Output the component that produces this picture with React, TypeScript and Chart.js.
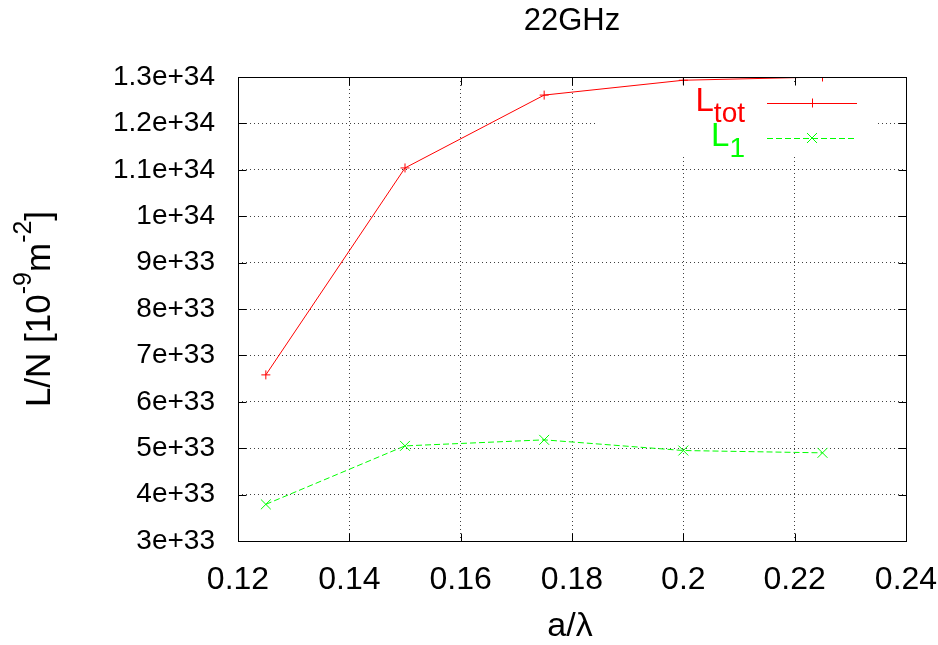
import { useEffect, useRef } from 'react';
import { Chart, registerables } from 'chart.js';

Chart.register(...registerables);

// a/λ sample positions and the two luminosity curves (per bunch charge)
const ratio = [0.125, 0.15, 0.175, 0.2, 0.225];
const lTot = [6.58e33, 1.104e34, 1.261e34, 1.293e34, 1.3e34];
const l1 = [3.79e33, 5.05e33, 5.18e33, 4.95e33, 4.9e33];

const chartTitle = '22GHz';
const xLabel = 'a/λ';
const xMin = 0.12;
const xMax = 0.24;
const xStep = 0.02;
const yMin = 3e33;
const yMax = 1.3e34;
const yStep = 1e33;

const FONT = "'Liberation Sans', Arial, Helvetica, sans-serif";
const RED = '#ff0000';
const GREEN = '#00ff00';

function sci(v: number): string {
  if (v === 0) return '0';
  const e = Math.floor(Math.log10(Math.abs(v)) + 1e-9);
  const m = Math.round((v / Math.pow(10, e)) * 10) / 10;
  return `${m}e+${e}`;
}

type Seg = { text: string; size: number; shift: number; color?: string };

function drawSegs(ctx: CanvasRenderingContext2D, segs: Seg[], x: number, y: number, align: 'left' | 'center' | 'right') {
  let total = 0;
  for (const s of segs) {
    ctx.font = `${s.size}px ${FONT}`;
    total += ctx.measureText(s.text).width;
  }
  let cx = align === 'left' ? x : align === 'center' ? x - total / 2 : x - total;
  ctx.textAlign = 'left';
  ctx.textBaseline = 'alphabetic';
  for (const s of segs) {
    ctx.font = `${s.size}px ${FONT}`;
    if (s.color) ctx.fillStyle = s.color;
    ctx.fillText(s.text, cx, y + s.shift);
    cx += ctx.measureText(s.text).width;
  }
}

const framePlugin = {
  id: 'gnuplotFrame',
  beforeDatasetsDraw(chart: any) {
    const { ctx, chartArea: a } = chart;
    // key box clears the grid behind it
    ctx.save();
    ctx.fillStyle = '#ffffff';
    ctx.fillRect(a.right - 308, a.top + 6, 280, 72);
    ctx.restore();
  },
  afterDatasetsDraw(chart: any) {
    const { ctx, chartArea: a } = chart;
    const xs = chart.scales.x;
    const ys = chart.scales.y;
    ctx.save();
    ctx.strokeStyle = '#000';
    ctx.lineWidth = 1;
    ctx.setLineDash([]);
    const L = Math.round(a.left) + 0.5;
    const R = Math.round(a.right) + 0.5;
    const T = Math.round(a.top) + 0.5;
    const B = Math.round(a.bottom) + 0.5;
    ctx.strokeRect(L, T, R - L, B - T);
    const tick = 8;
    ctx.beginPath();
    for (const t of xs.ticks) {
      const px = Math.round(xs.getPixelForValue(t.value)) + 0.5;
      ctx.moveTo(px, B);
      ctx.lineTo(px, B - tick);
      ctx.moveTo(px, T);
      ctx.lineTo(px, T + tick);
    }
    for (const t of ys.ticks) {
      const py = Math.round(ys.getPixelForValue(t.value)) + 0.5;
      ctx.moveTo(L, py);
      ctx.lineTo(L + tick, py);
      ctx.moveTo(R, py);
      ctx.lineTo(R - tick, py);
    }
    ctx.stroke();

    // key
    const textRight = a.right - 161;
    const lineStart = a.right - 139;
    const lineEnd = a.right - 49;
    const mid = (lineStart + lineEnd) / 2;
    const rows = [
      { main: 'L', sub: 'tot', color: RED, dash: [] as number[], y: a.top + 26, style: 'cross' },
      { main: 'L', sub: '1', color: GREEN, dash: [6, 3], y: a.top + 61, style: 'crossRot' },
    ];
    for (const r of rows) {
      drawSegs(
        ctx,
        [
          { text: r.main, size: 33, shift: 0, color: r.color },
          { text: r.sub, size: 28, shift: 11, color: r.color },
        ],
        textRight,
        r.y + 8,
        'right'
      );
      ctx.strokeStyle = r.color;
      ctx.lineWidth = 1;
      ctx.setLineDash(r.dash);
      ctx.beginPath();
      ctx.moveTo(lineStart, r.y + 0.5);
      ctx.lineTo(lineEnd, r.y + 0.5);
      ctx.stroke();
      ctx.setLineDash([]);
      ctx.beginPath();
      if (r.style === 'cross') {
        ctx.moveTo(mid - 4.5, r.y + 0.5);
        ctx.lineTo(mid + 4.5, r.y + 0.5);
        ctx.moveTo(mid + 0.5, r.y - 4.5);
        ctx.lineTo(mid + 0.5, r.y + 4.5);
      } else {
        ctx.moveTo(mid - 5, r.y - 5);
        ctx.lineTo(mid + 5, r.y + 5);
        ctx.moveTo(mid - 5, r.y + 5);
        ctx.lineTo(mid + 5, r.y - 5);
      }
      ctx.stroke();
    }

    // titles
    ctx.fillStyle = '#000';
    drawSegs(ctx, [{ text: chartTitle, size: 31, shift: 0 }], (a.left + a.right) / 2, 30, 'center');
    drawSegs(ctx, [{ text: xLabel, size: 34, shift: 0 }], (a.left + a.right) / 2 - 2, 636, 'center');

    ctx.save();
    ctx.translate(50, (a.top + a.bottom) / 2);
    ctx.rotate(-Math.PI / 2);
    ctx.fillStyle = '#000';
    drawSegs(
      ctx,
      [
        { text: 'L/N [10', size: 35, shift: 0 },
        { text: '-9', size: 25, shift: -19 },
        { text: 'm', size: 35, shift: 0 },
        { text: '-2', size: 25, shift: -19 },
        { text: ']', size: 35, shift: 0 },
      ],
      0,
      0,
      'center'
    );
    ctx.restore();
    ctx.restore();
  },
};

export default function App() {
  const ref = useRef<HTMLCanvasElement | null>(null);

  useEffect(() => {
    if (!ref.current) return;
    const gridCommon = {
      color: 'rgba(0,0,0,0.75)',
      lineWidth: 1,
      drawTicks: false,
    };
    const chart = new Chart(ref.current, {
      type: 'scatter',
      data: {
        datasets: [
          {
            label: 'L_tot',
            data: ratio.map((x, i) => ({ x, y: lTot[i] })),
            showLine: true,
            borderColor: RED,
            backgroundColor: RED,
            borderWidth: 1,
            pointStyle: 'cross',
            pointRadius: 4.5,
            pointBorderWidth: 1,
            pointBorderColor: RED,
          },
          {
            label: 'L_1',
            data: ratio.map((x, i) => ({ x, y: l1[i] })),
            showLine: true,
            borderColor: GREEN,
            backgroundColor: GREEN,
            borderWidth: 1,
            borderDash: [6, 3],
            pointStyle: 'crossRot',
            pointRadius: 7,
            pointBorderWidth: 1,
            pointBorderColor: GREEN,
          },
        ],
      },
      options: {
        responsive: false,
        animation: false,
        layout: { padding: { top: 77, right: 32, left: 0, bottom: 0 } },
        plugins: {
          legend: { display: false },
          title: { display: false },
          tooltip: { enabled: false },
        },
        scales: {
          x: {
            type: 'linear',
            min: xMin,
            max: xMax,
            afterFit: (s: any) => {
              s.height = 104;
              s.paddingLeft = 0;
              s.paddingRight = 0;
            },
            ticks: {
              stepSize: xStep,
              autoSkip: false,
              maxRotation: 0,
              padding: 20,
              color: '#000',
              font: { family: FONT, size: 32 },
              callback: (v: any) => String(Number(Number(v).toFixed(2))),
            },
            grid: gridCommon,
            border: { display: false, dash: [1, 3] },
          },
          y: {
            type: 'linear',
            min: yMin,
            max: yMax,
            afterFit: (s: any) => {
              s.width = 238;
              s.paddingTop = 0;
              s.paddingBottom = 0;
            },
            ticks: {
              stepSize: yStep,
              autoSkip: false,
              padding: 23,
              color: '#000',
              font: { family: FONT, size: 28 },
              callback: (v: any) => sci(Number(v)),
            },
            grid: gridCommon,
            border: { display: false, dash: [1, 3] },
          },
        },
      },
      plugins: [framePlugin],
    } as any);
    return () => chart.destroy();
  }, []);

  return (
    <div style={{ position: 'fixed', left: 0, top: 0, width: 938, height: 645, background: '#fff' }}>
      <canvas ref={ref} width={938} height={645} style={{ display: 'block' }} />
    </div>
  );
}
